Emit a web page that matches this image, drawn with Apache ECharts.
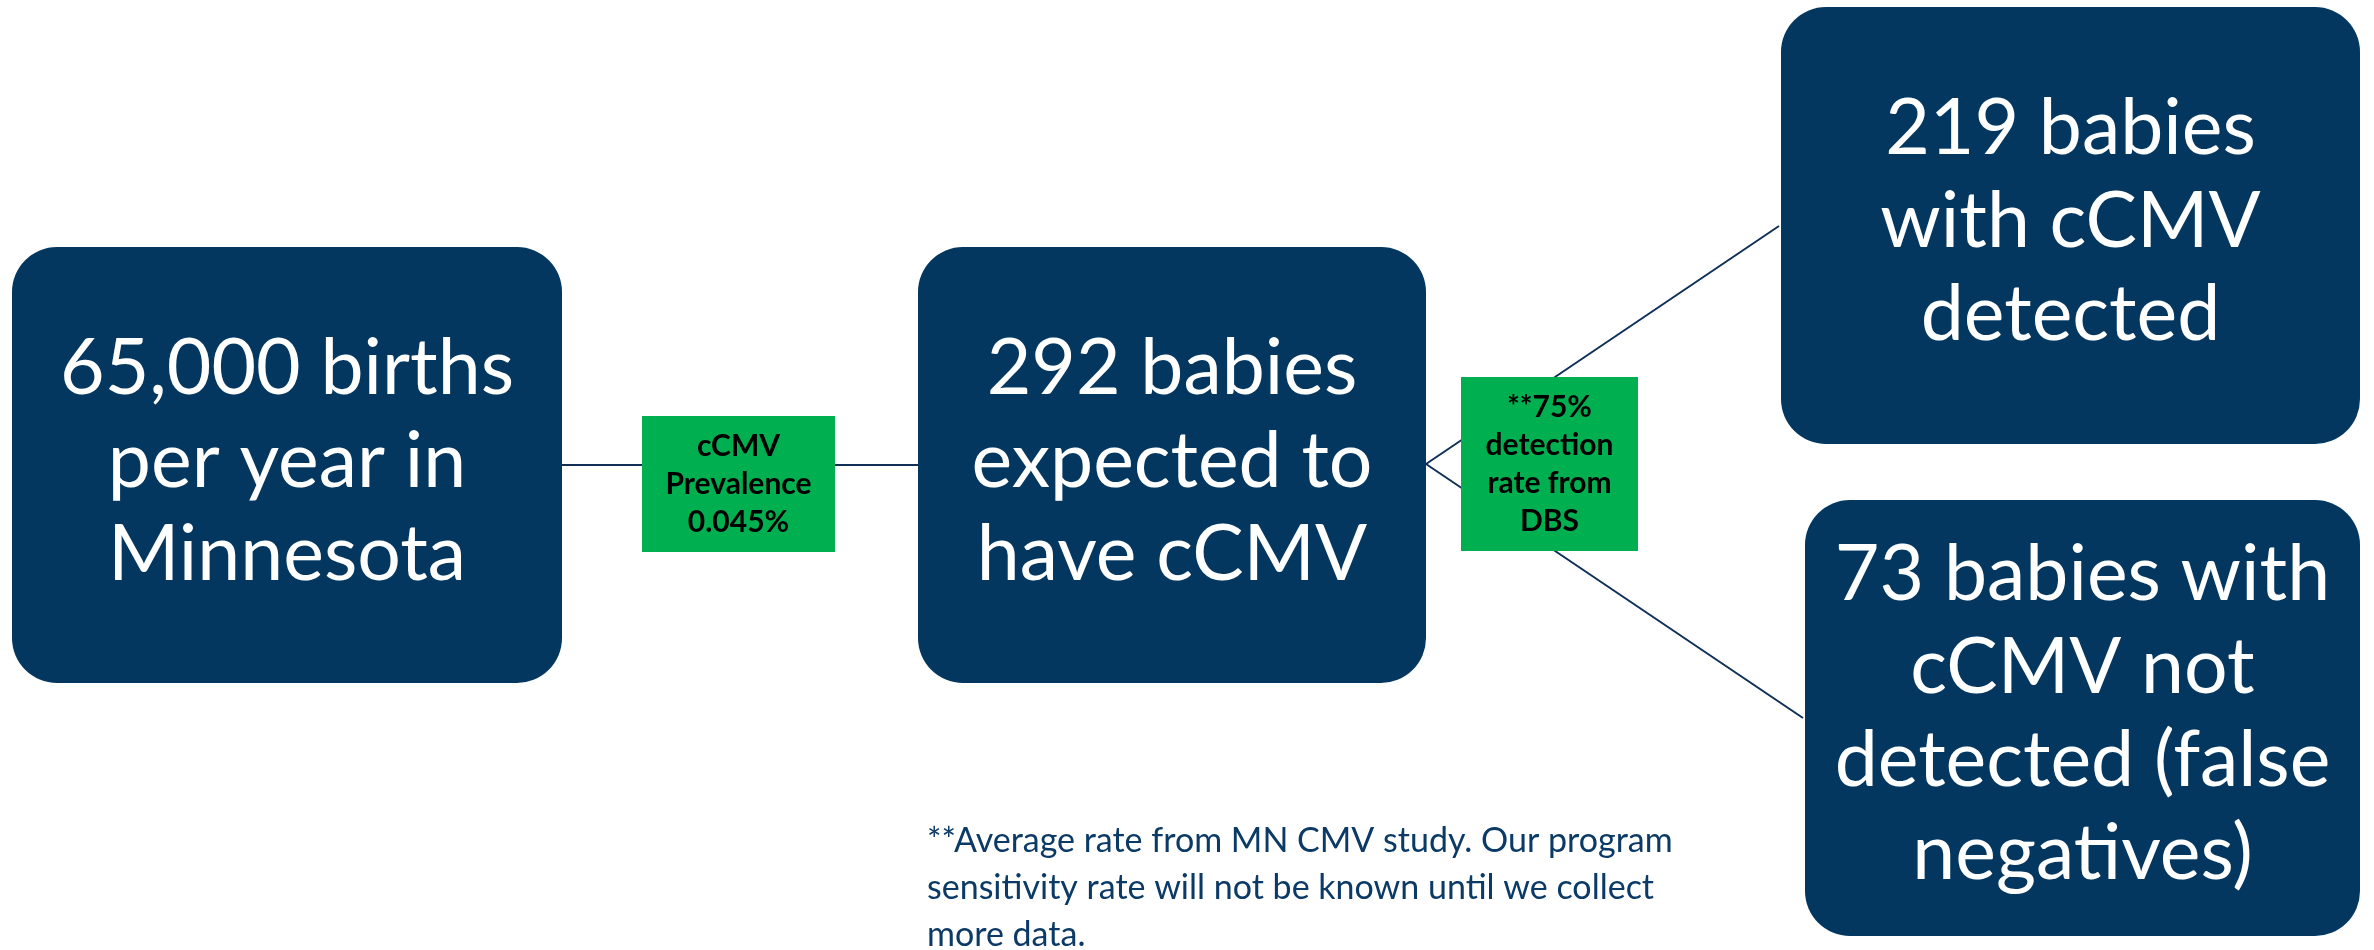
<!DOCTYPE html>
<html>
<head>
<meta charset="utf-8">
<script src="https://cdn.jsdelivr.net/npm/echarts@6/dist/echarts.min.js"></script>
<style>
html,body{margin:0;padding:0;background:#fff;}
#chart{width:2374px;height:950px;}
</style>
</head>
<body>
<div id="chart"></div>
<script>
// ---- content (text) ----
const boxLabels = [
  '65,000 births\nper year in\nMinnesota',
  '292 babies\nexpected to\nhave cCMV',
  '219 babies\nwith cCMV\ndetected',
  '73 babies with\ncCMV not\ndetected (false\nnegatives)'
];
const rateLabels = [
  'cCMV\nPrevalence\n0.045%',
  '**75%\ndetection\nrate from\nDBS'
];
const footnote = '**Average rate from MN CMV study. Our program\nsensitivity rate will not be known until we collect\nmore data.';

// ---- layout (positions in a 2374 x 950 diagram space) ----
const boxRects = [
  [12, 247, 562, 683],
  [918, 247, 1426, 683],
  [1781, 7, 2360, 444],
  [1805, 500, 2360, 936]
];
const rateRects = [
  [642, 416, 835, 552],
  [1461, 377, 1638, 551]
];
const connectors = [
  [562, 465, 918, 465],
  [1426, 464, 1779, 226],
  [1426, 464, 1803, 718]
];
const footnotePos = [927, 818];

const NAVY = '#03375f';
const GREEN = '#00b050';
const FONT = 'Lato';

const chart = echarts.init(document.getElementById('chart'));
chart.setOption({
  animation: false,
  backgroundColor: '#ffffff',
  grid: {left: 0, right: 0, top: 0, bottom: 0},
  xAxis: {type: 'value', min: 0, max: 2374, show: false},
  yAxis: {type: 'value', min: 0, max: 950, inverse: true, show: false},
  series: [
    {
      type: 'custom',
      z: 1,
      data: connectors,
      renderItem: function (params, api) {
        const a = api.coord([api.value(0), api.value(1)]);
        const b = api.coord([api.value(2), api.value(3)]);
        return {
          type: 'line',
          shape: {x1: a[0], y1: a[1], x2: b[0], y2: b[1]},
          style: {stroke: '#0f2f57', lineWidth: 2}
        };
      }
    },
    {
      type: 'custom',
      z: 2,
      data: boxRects,
      renderItem: function (params, api) {
        const p0 = api.coord([api.value(0), api.value(1)]);
        const p1 = api.coord([api.value(2), api.value(3)]);
        return {
          type: 'group',
          children: [
            {
              type: 'rect',
              shape: {x: p0[0], y: p0[1], width: p1[0] - p0[0], height: p1[1] - p0[1], r: 45},
              style: {fill: NAVY}
            },
            {
              type: 'text',
              x: (p0[0] + p1[0]) / 2,
              y: (p0[1] + p1[1]) / 2 - 3,
              style: {
                text: boxLabels[params.dataIndex],
                fill: '#ffffff',
                fontFamily: FONT,
                fontSize: 77,
                lineHeight: 93,
                align: 'center',
                verticalAlign: 'middle'
              }
            }
          ]
        };
      }
    },
    {
      type: 'custom',
      z: 3,
      data: rateRects,
      renderItem: function (params, api) {
        const p0 = api.coord([api.value(0), api.value(1)]);
        const p1 = api.coord([api.value(2), api.value(3)]);
        return {
          type: 'group',
          children: [
            {
              type: 'rect',
              shape: {x: p0[0], y: p0[1], width: p1[0] - p0[0], height: p1[1] - p0[1]},
              style: {fill: GREEN}
            },
            {
              type: 'text',
              x: (p0[0] + p1[0]) / 2,
              y: (p0[1] + p1[1]) / 2,
              style: {
                text: rateLabels[params.dataIndex],
                fill: '#000000',
                fontFamily: FONT,
                fontWeight: 'bold',
                fontSize: 30,
                lineHeight: 38,
                align: 'center',
                verticalAlign: 'middle'
              }
            }
          ]
        };
      }
    },
    {
      type: 'custom',
      z: 4,
      data: [footnotePos],
      renderItem: function (params, api) {
        const p = api.coord([api.value(0), api.value(1)]);
        return {
          type: 'text',
          x: p[0],
          y: p[1],
          style: {
            text: footnote,
            fill: '#0b3a66',
            fontFamily: FONT,
            fontSize: 34,
            lineHeight: 47,
            align: 'left',
            verticalAlign: 'top'
          }
        };
      }
    }
  ]
});
</script>
</body>
</html>
